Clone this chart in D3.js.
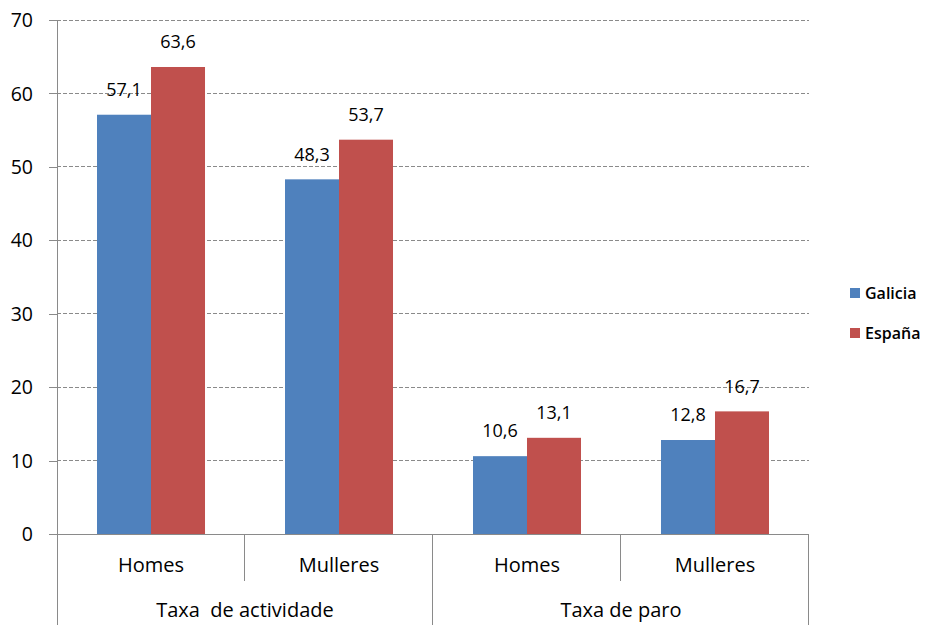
<!DOCTYPE html>
<html><head><meta charset="utf-8">
<script src="https://cdn.jsdelivr.net/npm/d3@7"></script>
<style>body{margin:0;background:#fff}text{font-family:"Open Sans",sans-serif;fill:#000}</style>
</head><body><svg id="c" width="926" height="625"></svg>
<script>
const groups = ["Taxa  de actividade", "Taxa de paro"];
const categories = ["Homes", "Mulleres", "Homes", "Mulleres"];
const categoryGroup = [0, 0, 1, 1];
const seriesNames = ["Galicia", "España"];
const galicia = [57.1, 48.3, 10.6, 12.8];
const espana = [63.6, 53.7, 13.1, 16.7];
const yTicks = [0, 10, 20, 30, 40, 50, 60, 70];
const colors = ["#4F81BD", "#C0504D"];

const svg = d3.select("#c");
const mLeft = 57, mRight = 809, mTop = 20, mBottom = 534;
const y = d3.scaleLinear().domain([0, 70]).range([mBottom, mTop]);
const x = d3.scaleBand().domain(d3.range(categories.length)).range([mLeft, mRight]).paddingInner(0.4255).paddingOuter(0.2128);
const xs = d3.scaleBand().domain([0, 1]).range([0, x.bandwidth()]);
const step = x.step();
const fmt = v => d3.format(".1f")(v).replace(".", ",");

// gridlines
svg.append("g").selectAll("line").data(yTicks.filter(d => d > 0)).join("line")
  .attr("x1", mLeft).attr("x2", mRight).attr("y1", d => y(d)).attr("y2", d => y(d))
  .attr("stroke", "#8a8a8a").attr("stroke-width", 1).attr("stroke-dasharray", "4,2")
  .attr("shape-rendering", "crispEdges");

// y axis
const yAxis = d3.axisLeft(y).tickValues(yTicks).tickSize(8).tickPadding(16).tickFormat(d3.format("d"));
const ga = svg.append("g").attr("transform", `translate(${mLeft},0)`).call(yAxis);
ga.select(".domain").attr("stroke", "#8a8a8a").attr("d", `M-0,${mTop}V${mBottom}`);
ga.selectAll(".tick line").attr("stroke", "#8a8a8a");
ga.selectAll(".tick text").style("font-family", '"Open Sans",sans-serif').style("font-size", "19.5px").attr("fill", "#000").attr("dy", "0.34em");
ga.attr("shape-rendering", "crispEdges");

// bars
const series = [galicia, espana];
series.forEach((vals, si) => {
  svg.append("g").selectAll("rect").data(vals).join("rect")
    .attr("x", (d, i) => x(i) + xs(si)).attr("width", xs.bandwidth())
    .attr("y", d => y(d)).attr("height", d => y(0) - y(d))
    .attr("fill", colors[si]);
  svg.append("g").selectAll("text").data(vals).join("text")
    .attr("x", (d, i) => x(i) + xs(si) + xs.bandwidth() / 2)
    .attr("y", d => y(d) - 25).attr("dy", "0.35em")
    .attr("text-anchor", "middle").style("font-size", "18px")
    .text(d => fmt(d));
});

// x axis baseline
svg.append("line").attr("x1", mLeft - 8).attr("x2", mRight).attr("y1", mBottom).attr("y2", mBottom)
  .attr("stroke", "#8a8a8a").attr("shape-rendering", "crispEdges");

// category separators
const boundaries = d3.range(categories.length + 1);
svg.append("g").selectAll("line").data(boundaries).join("line")
  .attr("x1", i => mLeft + i * step).attr("x2", i => mLeft + i * step)
  .attr("y1", mBottom).attr("y2", i => (i % 2 === 0) ? 625 : 581)
  .attr("stroke", "#8a8a8a").attr("shape-rendering", "crispEdges");

// category labels
svg.append("g").selectAll("text").data(categories).join("text")
  .attr("x", (d, i) => x(i) + x.bandwidth() / 2).attr("y", 565).attr("dy", "0.35em")
  .attr("text-anchor", "middle").style("font-size", "20px").text(d => d);

// group labels
svg.append("g").selectAll("text").data(groups).join("text")
  .attr("x", (d, gi) => {
    const idx = categoryGroup.map((g, i) => g === gi ? i : -1).filter(i => i >= 0);
    return (mLeft + idx[0] * step + mLeft + (idx[idx.length - 1] + 1) * step) / 2;
  })
  .attr("y", 610).attr("dy", "0.35em").attr("text-anchor", "middle")
  .style("font-size", "20px").style("white-space", "pre").text(d => d);

// legend
const lg = svg.append("g").selectAll("g").data(seriesNames).join("g")
  .attr("transform", (d, i) => `translate(850,${293 + i * 40})`);
lg.append("rect").attr("x", 0).attr("y", -5).attr("width", 10).attr("height", 10).attr("fill", (d, i) => colors[i]);
lg.append("text").attr("x", 15).attr("y", 0).attr("dy", "0.35em").style("font-size", "16px").style("font-weight", "600").text(d => d);
</script></body></html>
